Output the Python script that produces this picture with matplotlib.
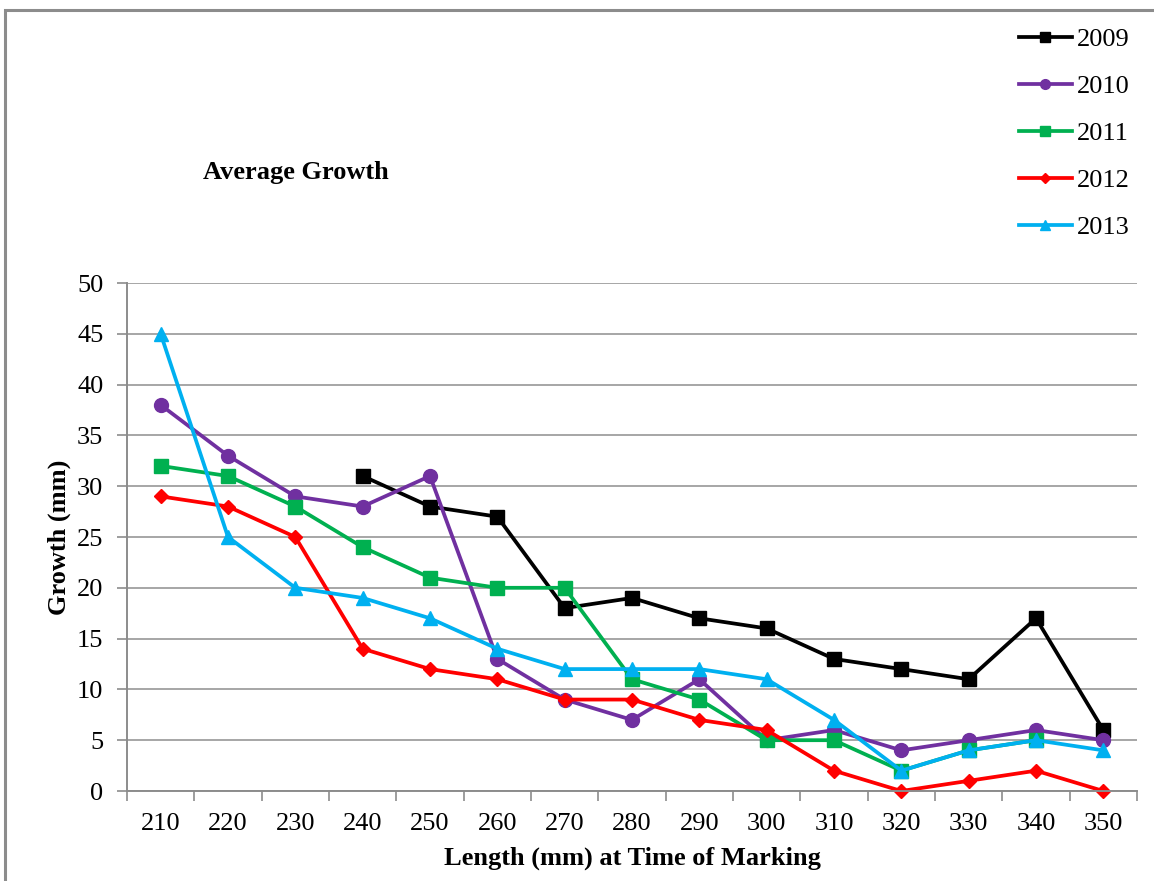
import numpy as np
import matplotlib.pyplot as plt
from matplotlib.patches import Rectangle

plt.rcParams['font.family'] = ['Liberation Serif', 'DejaVu Serif']

lengths = [210, 220, 230, 240, 250, 260, 270, 280, 290, 300, 310, 320, 330, 340, 350]
nan = np.nan
g2009 = [nan, nan, nan, 31, 28, 27, 18, 19, 17, 16, 13, 12, 11, 17, 6]
g2010 = [38, 33, 29, 28, 31, 13, 9, 7, 11, 5, 6, 4, 5, 6, 5]
g2011 = [32, 31, 28, 24, 21, 20, 20, 11, 9, 5, 5, 2, 4, 5, nan]
g2012 = [29, 28, 25, 14, 12, 11, 9, 9, 7, 6, 2, 0, 1, 2, 0]
g2013 = [45, 25, 20, 19, 17, 14, 12, 12, 12, 11, 7, 2, 4, 5, 4]

series = [
    ('2009', g2009, '#000000', 's', 10),
    ('2010', g2010, '#7030A0', 'o', 10),
    ('2011', g2011, '#00B050', 's', 10),
    ('2012', g2012, '#FF0000', 'D', 7.5),
    ('2013', g2013, '#00B0F0', '^', 10.5),
]

W, H = 1154, 881
fig = plt.figure(figsize=(W / 100, H / 100), dpi=100)
ax = fig.add_axes([127 / W, 1 - 791 / H, (1137 - 127) / W, (791 - 283) / H])

# outer chart frame (runs off the right and bottom edges)
fig.patches.append(Rectangle((5 / W, -0.1), 1.2, 1 - 9.5 / H + 0.1,
                             transform=fig.transFigure, fill=False,
                             edgecolor='#8c8c8c', linewidth=2.2, zorder=0))

x = np.arange(len(lengths))
for name, vals, col, mk, ms in series:
    ax.plot(x, vals, color=col, marker=mk, markersize=ms, linewidth=2.7,
            label=name, clip_on=False)

ax.set_xlim(-0.5, len(lengths) - 0.5)
ax.set_ylim(0, 50)
ax.set_yticks(range(0, 51, 5))
ax.set_xticks(x)
ax.set_xticklabels([str(v) for v in lengths])
ax.set_xticks(np.arange(-0.5, len(lengths)), minor=True)
ax.tick_params(axis='x', which='major', length=0, pad=16, labelsize=19)
ax.tick_params(axis='x', which='minor', length=7, width=1.2, color='#8c8c8c', direction='out')
ax.tick_params(axis='y', length=7, width=1.2, color='#8c8c8c', pad=10, labelsize=19)

ax.grid(axis='y', color='#a6a6a6', linewidth=1.4)
ax.set_axisbelow(True)
for s in ['top', 'right']:
    ax.spines[s].set_visible(False)
for s in ['left', 'bottom']:
    ax.spines[s].set_color('#8c8c8c')
    ax.spines[s].set_linewidth(1.4)

ax.set_xlabel('Length (mm) at Time of Marking', fontsize=19, fontweight='bold', labelpad=8)
ax.set_ylabel('Growth (mm)', fontsize=19, fontweight='bold', labelpad=4)
fig.text(296 / W, 1 - 173 / H, 'Average Growth', fontsize=19, fontweight='bold',
         ha='center', va='center')

fig.legend(loc='upper left', bbox_to_anchor=(995 / W, 1 - 4 / H), frameon=False,
           fontsize=19, handlelength=2.0, handletextpad=0.2, labelspacing=0.89,
           markerscale=0.7)

fig.savefig('out.png', dpi=100)
